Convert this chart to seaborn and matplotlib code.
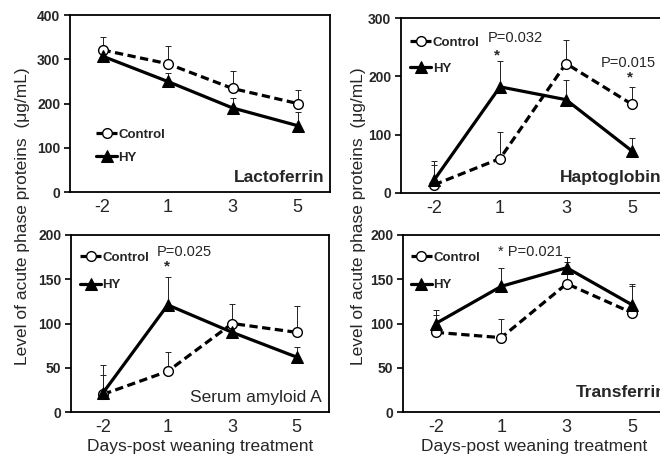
import numpy as np
import pandas as pd
import matplotlib
matplotlib.use("Agg")
import matplotlib.pyplot as plt
import seaborn as sns

# ---------------- data ----------------
days = ["-2", "1", "3", "5"]
groups = ["Control", "HY"]

lacto_ctrl = [321, 290, 234, 200]
lacto_ctrl_err = [30, 40, 40, 31]
lacto_hy = [307, 250, 190, 150]
lacto_hy_err = [12, 20, 22, 30]

hapto_ctrl = [14, 59, 222, 152]
hapto_ctrl_err = [41, 45, 40, 29]
hapto_hy = [22, 182, 160, 72]
hapto_hy_err = [26, 45, 34, 22]

saa_ctrl = [20, 46, 100, 90]
saa_ctrl_err = [33, 22, 22, 30]
saa_hy = [22, 121, 90, 62]
saa_hy_err = [20, 32, 10, 12]

trans_ctrl = [90, 84, 145, 112]
trans_ctrl_err = [20, 21, 25, 30]
trans_hy = [100, 142, 163, 121]
trans_hy_err = [15, 21, 12, 24]

panels = [
    dict(name="Lactoferrin", ctrl=lacto_ctrl, ce=lacto_ctrl_err, hy=lacto_hy, he=lacto_hy_err,
         ymax=400, yticks=[0, 100, 200, 300, 400]),
    dict(name="Haptoglobin", ctrl=hapto_ctrl, ce=hapto_ctrl_err, hy=hapto_hy, he=hapto_hy_err,
         ymax=300, yticks=[0, 100, 200, 300]),
    dict(name="Serum amyloid A", ctrl=saa_ctrl, ce=saa_ctrl_err, hy=saa_hy, he=saa_hy_err,
         ymax=200, yticks=[0, 50, 100, 150, 200]),
    dict(name="Transferrin", ctrl=trans_ctrl, ce=trans_ctrl_err, hy=trans_hy, he=trans_hy_err,
         ymax=200, yticks=[0, 50, 100, 150, 200]),
]

# ---------------- style ----------------
sns.set_style("white")
plt.rcParams["font.family"] = ["Liberation Sans", "DejaVu Sans"]

fig = plt.figure(figsize=(6.6, 4.59), dpi=100)
W, H = 660, 459

def px_axes(left, top, right, bottom):
    return fig.add_axes([left / W, 1 - bottom / H, (right - left) / W, (bottom - top) / H])

axes = [
    px_axes(70, 15, 330, 192),
    px_axes(401, 18, 665, 193),
    px_axes(71, 235, 329, 412),
    px_axes(403, 235, 665, 412),
]

LW = 2.3
for ax, p in zip(axes, panels):
    pos = np.arange(len(days))
    df = pd.DataFrame({
        "pos": np.concatenate([pos, pos]),
        "value": p["ctrl"] + p["hy"],
        "err": p["ce"] + p["he"],
        "group": ["Control"] * 4 + ["HY"] * 4,
    })
    c = df[df.group == "Control"]
    h = df[df.group == "HY"]
    ax.errorbar(c.pos, c.value, yerr=[np.zeros(4), c.err], fmt="none", ecolor="#222222",
                elinewidth=0.7, capsize=2.5, capthick=0.7, zorder=2)
    ax.errorbar(h.pos, h.value, yerr=[np.zeros(4), h.err], fmt="none", ecolor="#222222",
                elinewidth=0.7, capsize=2.5, capthick=0.7, zorder=2)
    sns.lineplot(data=c, x="pos", y="value", ax=ax, color="black", lw=LW,
                 linestyle=(0, (2.6, 1.4)), marker="o", markersize=7,
                 markerfacecolor="white", markeredgecolor="black", markeredgewidth=1.0,
                 label="Control", zorder=3, legend=False)
    sns.lineplot(data=h, x="pos", y="value", ax=ax, color="black", lw=LW,
                 marker="^", markersize=8, markeredgecolor="black",
                 label="HY", zorder=4, legend=False)
    ax.set_xlim(-0.5, 3.5)
    ax.set_ylim(0, p["ymax"])
    ax.set_xticks([-0.5, 0.5, 1.5, 2.5, 3.5])
    ax.set_xticklabels([])
    ax.set_xticks(pos, minor=True)
    ax.set_xticklabels(days, minor=True, fontsize=13)
    ax.tick_params(axis="x", which="major", direction="inout", length=7, width=1.2, color="black")
    ax.tick_params(axis="x", which="minor", length=0, pad=5)
    ax.set_yticks(p["yticks"])
    ax.set_yticklabels([str(v) for v in p["yticks"]], fontsize=10, fontweight="bold")
    ax.tick_params(axis="y", direction="out", length=4, width=1.2, color="black", pad=3, left=True)
    for s in ax.spines.values():
        s.set_visible(True)
        s.set_color("black")
        s.set_linewidth(1.3)
    ax.set_xlabel("")
    ax.set_ylabel("")

# legend placement per panel: (anchor x, anchor y, labelspacing)
leg_pos = [(0.10, 0.36, 0.85), (0.035, 0.895, 1.05), (0.035, 0.905, 1.15), (0.03, 0.905, 1.15)]
for ax, (lx, ly, ls) in zip(axes, leg_pos):
    ax.legend(loc="upper left", bbox_to_anchor=(lx, ly), frameon=False,
              handlelength=1.6, handletextpad=0.1, borderpad=0, borderaxespad=0,
              labelspacing=ls, prop=dict(weight="bold", size=9.5))

# panel titles
axes[0].text(3.42, 32, "Lactoferrin", ha="right", va="center", fontsize=12.5, fontweight="bold")
axes[1].text(1.91, 26, "Haptoglobin", ha="left", va="center", fontsize=12.5, fontweight="bold")
axes[2].text(3.38, 16, "Serum amyloid A", ha="right", va="center", fontsize=12.5)
axes[3].text(2.13, 22, "Transferrin", ha="left", va="center", fontsize=12.5, fontweight="bold")

# significance annotations
axes[1].text(0.82, 266, "P=0.032", ha="left", va="center", fontsize=10.5)
axes[1].text(0.96, 236, "*", ha="center", va="center", fontsize=11, fontweight="bold")
axes[1].text(2.52, 223, "P=0.015", ha="left", va="center", fontsize=10.5)
axes[1].text(2.97, 198, "*", ha="center", va="center", fontsize=11, fontweight="bold")
axes[2].text(0.83, 181, "P=0.025", ha="left", va="center", fontsize=10.5)
axes[2].text(0.99, 165, "*", ha="center", va="center", fontsize=11, fontweight="bold")
axes[3].text(0.95, 181, "* P=0.021", ha="left", va="center", fontsize=10.5)

# axis labels
for x in (23 / W, 359 / W):
    fig.text(x, 0.528, "Level of acute phase proteins  (\u03bcg/mL)", rotation=90,
             ha="center", va="center", fontsize=12.5)
axes[2].set_xlabel("Days-post weaning treatment", fontsize=12.5, labelpad=2)
axes[3].set_xlabel("Days-post weaning treatment", fontsize=12.5, labelpad=2)

fig.savefig("out.png", dpi=100)
